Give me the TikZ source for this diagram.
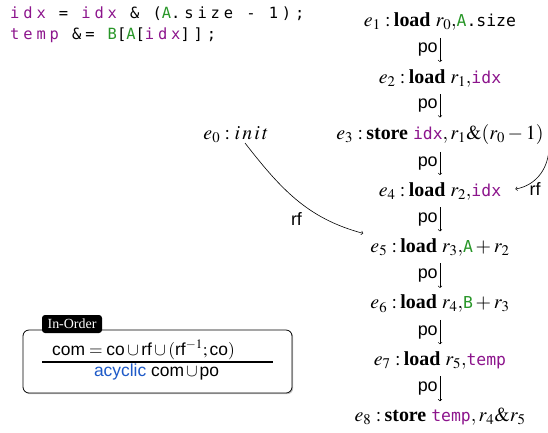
\documentclass[tikz,border=0pt]{standalone}
\usepackage{mathptmx}
\usepackage[no-math]{fontspec}
\setmainfont{Liberation Serif}
\setsansfont{Liberation Sans}
\setmonofont{DejaVu Sans Mono}
\newfontfamily\codefont[LetterSpace=25]{DejaVu Sans Mono}
\usetikzlibrary{shadows}
\definecolor{kwpurple}{RGB}{140,20,140}
\definecolor{kwgreen}{RGB}{40,150,40}
\definecolor{acblue}{RGB}{30,90,200}
\newcommand{\mt}[1]{{\fontsize{16.5}{20}\selectfont\ttfamily #1}}
\newcommand{\vp}[1]{\textcolor{kwpurple}{\mt{#1}}}
\newcommand{\vg}[1]{\textcolor{kwgreen}{\mt{#1}}}
\newcommand{\sfm}[1]{\mbox{\sffamily #1}}
\begin{document}
\begin{tikzpicture}[x=1bp,y=1bp,
  ev/.style={font=\fontsize{20}{24}\selectfont, inner sep=2bp, anchor=base},
  rel/.style={font=\sffamily\fontsize{18}{20}\selectfont, inner sep=1bp},
  code/.style={font={\fontsize{15.5}{18}\selectfont\codefont}, anchor=base west, inner sep=0pt},
  poarr/.style={->, line width=0.6bp, shorten <=5bp, shorten >=5bp},
  rfarr/.style={->, line width=0.6bp}]
\useasboundingbox (0,0) rectangle (548,-432);
% code
\node[code] (c1) at (10,-18.3) {\textcolor{kwpurple}{idx} = \textcolor{kwpurple}{idx} \& (\textcolor{kwgreen}{A}.size - 1);};
\node[code] (c2) at (10,-39.3) {\textcolor{kwpurple}{temp} \&= \textcolor{kwgreen}{B}[\textcolor{kwgreen}{A}[\textcolor{kwpurple}{idx}]];};
% events
\node[ev] (e1) at (440,-26.7) {$e_1:$\,\textbf{load} $r_0,$\vg{A}\mt{.size}};
\node[ev] (e2) at (440,-83.1) {$e_2:$\,\textbf{load} $r_1,$\vp{idx}};
\node[ev] (e3) at (440,-139.6) {$e_3:$\,\textbf{store} \vp{idx}$,r_1\&(r_0-1)$};
\node[ev] (e4) at (440,-196.0) {$e_4:$\,\textbf{load} $r_2,$\vp{idx}};
\node[ev] (e5) at (440,-252.4) {$e_5:$\,\textbf{load} $r_3,$\vg{A}${}+r_2$};
\node[ev] (e6) at (440,-308.9) {$e_6:$\,\textbf{load} $r_4,$\vg{B}${}+r_3$};
\node[ev] (e7) at (440,-365.3) {$e_7:$\,\textbf{load} $r_5,$\vp{temp}};
\node[ev] (e8) at (440,-421.7) {$e_8:$\,\textbf{store} \vp{temp}$,r_4\&r_5$};
\node[ev] (e0) at (236,-139.6) {$e_0:i\,n\,i\,t$};
% po edges
\foreach \a/\b in {e1/e2,e2/e3,e3/e4,e4/e5,e5/e6,e6/e7,e7/e8}
  \draw[poarr] (\a.south) -- node[rel, left=1bp] {po} (\b.north);
% rf edges
\draw[rfarr] ([xshift=9bp,yshift=2bp]e0.south) to[out=-52, in=165]
  node[rel, pos=0.5, below=11bp] {rf} ([xshift=-5bp,yshift=3bp]e5.north west);
\draw[rfarr] ([xshift=3bp,yshift=-4bp]e3.south east) to[out=-95, in=10]
  node[rel, at end, anchor=west, xshift=13bp] {rf} ([xshift=12bp,yshift=2bp]e4.east);
% in-order box
\node[draw, rounded corners=6bp, line width=0.8bp, fill=white,
  drop shadow={shadow xshift=1.2bp, shadow yshift=-1.2bp, opacity=0.45},
  minimum width=269bp, minimum height=63bp] (box) at (157.5,-361.5) {};
\node[fill=black, text=white, rounded corners=3bp, inner sep=2bp,
  minimum width=60bp, minimum height=18bp, font=\fontsize{14}{16}\selectfont] (tag) at (72,-324) {In-Order};
\node[anchor=base, inner sep=0pt, font=\sffamily\fontsize{17.5}{20}\selectfont] (num) at (143.5,-355.7)
  {\fontsize{17.5}{20}\selectfont$\sfm{com}=\sfm{co}\cup\sfm{rf}\cup(\sfm{rf}^{-1};\sfm{co})$};
\node[anchor=base, inner sep=0pt, font=\sffamily\fontsize{17.5}{20}\selectfont] (den) at (156.5,-376)
  {\textcolor{acblue}{acyclic} com$\,\cup\,$po};
\coordinate (ra) at (42,-362);
\coordinate (rb) at (273,-362);
\draw[line width=2bp] (ra) -- (rb);
\end{tikzpicture}
\end{document}
